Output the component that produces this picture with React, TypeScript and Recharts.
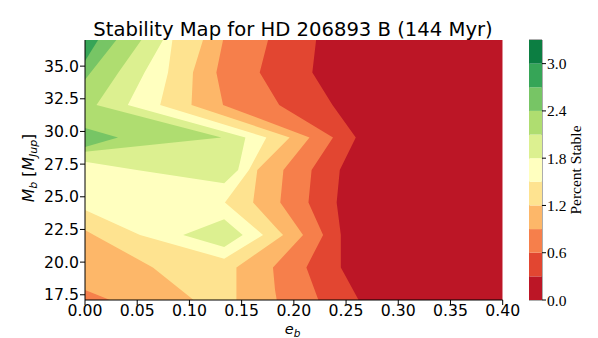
import React from 'react';
import { ComposedChart, Area, XAxis, YAxis, BarChart, Bar, ReferenceArea } from 'recharts';

// each row: [M_b, e_b from, e_b to] of the region where stability >= level
type Row = [number, number, number];

const eTicks = [0, 0.05, 0.1, 0.15, 0.2, 0.25, 0.3, 0.35, 0.4];
const mTicks = [17.5, 20, 22.5, 25, 27.5, 30, 32.5, 35];
const levels = [0, 0.3, 0.6, 0.9, 1.2, 1.5, 1.8, 2.1, 2.4, 2.7, 3.0, 3.3];
const cbarTicks = [0, 0.6, 1.2, 1.8, 2.4, 3.0];
const bandColors = [
  '#bc1626', '#e24631', '#f67f4b', '#fdb769', '#fee390', '#ffffbf',
  '#dcf090', '#afdd70', '#77c565', '#36a557', '#0c7e42',
];

const lvl00: Row[] = [[17.1, 0, 0.4], [37, 0, 0.4]];
const lvl03: Row[] = [
  [17.1, 0, 0.262], [19.59, 0, 0.245], [22.08, 0, 0.245], [24.56, 0, 0.241], [27.05, 0, 0.244],
  [29.54, 0, 0.2593], [32.03, 0, 0.237], [34.51, 0, 0.2177], [37, 0, 0.2213],
];
const lvl06: Row[] = [
  [17.1, 0, 0.2235], [19.59, 0, 0.212], [22.08, 0, 0.228], [24.56, 0, 0.214], [27.05, 0, 0.217],
  [29.54, 0, 0.2375], [32.03, 0, 0.186], [34.51, 0, 0.1673], [37, 0, 0.1753],
];
const lvl09: Row[] = [
  [17.1, 0.024, 0.1836], [17.87, 0, 0.182], [19.59, 0, 0.18], [22.08, 0, 0.2088], [24.56, 0, 0.187],
  [27.05, 0, 0.19], [29.54, 0, 0.215], [32.03, 0, 0.1322], [34.51, 0, 0.1258], [37, 0, 0.1322],
];
const lvl12: Row[] = [
  [17.1, 0.104, 0.145], [19.59, 0.065, 0.145], [22.08, 0.0085, 0.1897], [22.46, 0, 0.185],
  [24.56, 0, 0.161], [27.05, 0, 0.165], [29.54, 0, 0.196], [32.03, 0, 0.102], [34.51, 0, 0.1034],
  [37, 0, 0.113],
];
const lvl15: Row[] = [
  [20.26, 0.1333, 0.1333], [22.08, 0.0527, 0.1705], [23.99, 0, 0.1424], [24.56, 0, 0.134],
  [27.05, 0, 0.157], [29.54, 0, 0.1737], [32.03, 0, 0.072], [34.51, 0, 0.0795], [37, 0, 0.0837],
];
const lvl18: Row[] = [
  [26.03, 0.1333, 0.1333], [27.05, 0.0496, 0.1466], [27.69, 0, 0.1485], [29.54, 0, 0.1536],
  [32.03, 0, 0.041], [34.51, 0, 0.057], [37, 0, 0.0747],
];
const lvl18Island: Row[] = [[21.16, 0.1333, 0.1333], [22.08, 0.094, 0.151], [23.28, 0.1333, 0.1333]];
const lvl21: Row[] = [[28.45, 0, 0], [29.54, 0, 0.1306], [32.03, 0, 0.011], [34.51, 0, 0.032], [37, 0, 0.054]];
const lvl24: Row[] = [[33.96, 0, 0], [34.51, 0, 0.0054], [37, 0, 0.03]];
const lvl24Island: Row[] = [[28.81, 0, 0], [29.54, 0, 0.0316], [30.26, 0, 0]];
const lvl27: Row[] = [[35.39, 0, 0], [37, 0, 0.0125]];

const regions: { rows: Row[]; band: number }[] = [
  { rows: lvl00, band: 0 },
  { rows: lvl03, band: 1 },
  { rows: lvl06, band: 2 },
  { rows: lvl09, band: 3 },
  { rows: lvl12, band: 4 },
  { rows: lvl15, band: 5 },
  { rows: lvl18, band: 6 },
  { rows: lvl18Island, band: 6 },
  { rows: lvl21, band: 7 },
  { rows: lvl24, band: 8 },
  { rows: lvl24Island, band: 8 },
  { rows: lvl27, band: 9 },
];

const cbarRow: Record<string, number | string> = { name: 'cb' };
levels.slice(1).forEach((v, i) => {
  cbarRow[`b${i}`] = +(v - levels[i]).toFixed(2);
});

const FONT = 'DejaVu Sans';
const tickStyle = { fill: '#000', fontSize: 15.7, fontFamily: FONT };

export default function App() {
  return (
    <div style={{ position: 'absolute', left: 0, top: 0, width: 598, height: 338, background: '#fff' }}>
      <ComposedChart
        layout="vertical"
        width={598}
        height={338}
        margin={{ top: 40, right: 95.3, bottom: 0, left: 0 }}
        style={{ position: 'absolute', left: 0, top: 0 }}
      >
        <XAxis
          type="number"
          domain={[0, 0.4]}
          ticks={eTicks}
          allowDataOverflow
          height={38}
          tick={tickStyle}
          tickFormatter={(v: number) => v.toFixed(2)}
          tickSize={5}
          tickMargin={0}
          stroke="#000"
          interval={0}
        />
        <YAxis
          type="number"
          dataKey="m"
          domain={[17.1, 37]}
          reversed
          ticks={mTicks}
          allowDataOverflow
          width={85}
          tick={tickStyle}
          tickFormatter={(v: number) => v.toFixed(1)}
          tickSize={5}
          tickMargin={1}
          stroke="#000"
          interval={0}
        />
        <XAxis xAxisId="top" orientation="top" type="number" domain={[0, 0.4]} height={0} tick={false} tickLine={false} stroke="#000" />
        <YAxis yAxisId="right" orientation="right" type="number" domain={[17.1, 37]} reversed width={0} tick={false} tickLine={false} stroke="#000" />
        {regions.map((r, i) => (
          <Area
            key={i}
            type="linear"
            dataKey="e"
            data={r.rows.map(([m, lo, hi]) => ({ m, e: [lo, hi] }))}
            fill={bandColors[r.band]}
            fillOpacity={1}
            stroke="none"
            dot={false}
            activeDot={false}
            isAnimationActive={false}
          />
        ))}
      </ComposedChart>

      <BarChart
        width={69}
        height={280}
        data={[cbarRow]}
        margin={{ top: 10, right: 0, bottom: 10, left: 0 }}
        barCategoryGap={0}
        barGap={0}
        style={{ position: 'absolute', left: 529, top: 30 }}
      >
        <XAxis dataKey="name" hide />
        <YAxis
          orientation="right"
          type="number"
          domain={[0, 3.3]}
          ticks={cbarTicks}
          width={56}
          tick={{ fill: '#000', fontSize: 15.5, fontFamily: 'Liberation Serif' }}
          tickFormatter={(v: number) => v.toFixed(1)}
          tickSize={4}
          tickMargin={1}
          axisLine={false}
          stroke="#000"
          interval={0}
        />
        {levels.slice(1).map((_, i) => (
          <Bar key={i} dataKey={`b${i}`} stackId="cb" fill={bandColors[i]} isAnimationActive={false} />
        ))}
        <ReferenceArea y1={0} y2={3.3} fill="none" stroke="#333" strokeWidth={0.8} ifOverflow="visible" />
      </BarChart>

      <svg width={598} height={338} style={{ position: 'absolute', left: 0, top: 0, pointerEvents: 'none' }}>
        <text x={293} y={36} textAnchor="middle" fontFamily={FONT} fontSize={19.6} fill="#000">
          Stability Map for HD 206893 B (144 Myr)
        </text>
        <text x={292.5} y={334} textAnchor="middle" fontFamily={FONT} fontSize={14.5} fill="#000">
          <tspan fontStyle="italic">e</tspan>
          <tspan fontStyle="italic" fontSize={10.5} dy={2.5}>b</tspan>
        </text>
        <text transform="translate(34,168) rotate(-90)" textAnchor="middle" fontFamily={FONT} fontSize={15.7} fill="#000">
          <tspan fontStyle="italic">M</tspan>
          <tspan fontStyle="italic" fontSize={11} dy={3}>b</tspan>
          <tspan dy={-3}> [</tspan>
          <tspan fontStyle="italic">M</tspan>
          <tspan fontStyle="italic" fontSize={11} dy={3}>Jup</tspan>
          <tspan dy={-3}>]</tspan>
        </text>
        <text transform="translate(581,170) rotate(-90)" textAnchor="middle" fontFamily="Liberation Serif" fontSize={15.5} fill="#000">
          Percent Stable
        </text>
      </svg>
    </div>
  );
}
